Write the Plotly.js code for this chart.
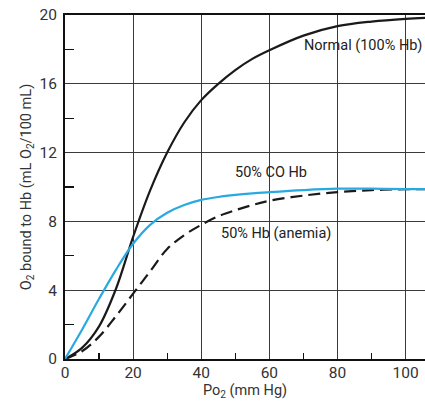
<!DOCTYPE html>
<html>
<head>
<meta charset="utf-8">
<script src="https://cdn.plot.ly/plotly-3.0.1.min.js"></script>
<style>html,body{margin:0;padding:0;background:#fff;}#chart{width:425px;height:405px;}</style>
</head>
<body>
<div id="chart"></div>
<script>
// Po2 values (mm Hg)
const po2 = [0, 5, 10, 15, 20, 25, 30, 35, 40, 45, 50, 55, 60, 70, 80, 90, 100, 106];
// O2 bound to Hb (mL O2 / 100 mL)
const normal = [0, 0.65, 1.9, 4.1, 7.1, 9.8, 12.0, 13.75, 15.05, 16.0, 16.8, 17.45, 17.95, 18.8, 19.35, 19.62, 19.78, 19.84];
const coHb = [0, 1.7, 3.5, 5.2, 6.7, 7.8, 8.5, 8.95, 9.25, 9.42, 9.54, 9.63, 9.7, 9.82, 9.9, 9.9, 9.88, 9.88];
const anemia = [0, 0.45, 1.3, 2.5, 3.8, 5.1, 6.4, 7.2, 7.8, 8.3, 8.65, 8.95, 9.2, 9.5, 9.7, 9.82, 9.87, 9.88];

const seriesNames = ['Normal (100% Hb)', '50% CO Hb', '50% Hb (anemia)'];
// label anchor: [Po2, O2 content, anchor side]
const labelPos = [[105.5, 18.2, 'right'], [49.3, 10.84, 'left'], [45.1, 7.31, 'left']];

const xTickVals = [0, 20, 40, 60, 80, 100];
const yTickVals = [0, 4, 8, 12, 16, 20];

const FONT = 'Roboto, "Noto Sans", sans-serif';
const FS = 14.5;

const traces = [
  {x: po2, y: normal, mode: 'lines', name: seriesNames[0],
   line: {color: '#1a1a1a', width: 2.2, shape: 'spline', smoothing: 1}},
  {x: po2, y: anemia, mode: 'lines', name: seriesNames[2],
   line: {color: '#1a1a1a', width: 2.2, dash: '12px,6px', shape: 'spline', smoothing: 1}},
  {x: po2, y: coHb, mode: 'lines', name: seriesNames[1],
   line: {color: '#29a9e1', width: 2.2, shape: 'spline', smoothing: 1}}
];

const layout = {
  width: 425, height: 405,
  margin: {l: 65, r: 0, t: 15, b: 46},
  showlegend: false,
  paper_bgcolor: '#fff', plot_bgcolor: '#fff',
  font: {family: FONT, size: FS, color: '#333'},
  xaxis: {
    range: [0, 105.7], tickvals: xTickVals, ticktext: xTickVals.map(String),
    showgrid: true, gridcolor: '#3a3a3a', gridwidth: 1,
    zeroline: false, showline: true, linecolor: '#111', linewidth: 2, mirror: true,
    ticks: '', ticklabelstandoff: -2,
    minor: {tick0: 10, dtick: 20, ticks: 'inside', ticklen: 6, tickcolor: '#111', tickwidth: 1.3, showgrid: false},
    title: {text: 'Po<sub>2</sub> (mm Hg)', standoff: 4, font: {family: FONT, size: FS, color: '#333'}},
    tickfont: {family: FONT, size: FS + 1, color: '#333'}
  },
  yaxis: {
    range: [0, 20], tickvals: yTickVals, ticktext: yTickVals.map(String),
    showgrid: true, gridcolor: '#3a3a3a', gridwidth: 1,
    zeroline: false, showline: true, linecolor: '#111', linewidth: 2,
    ticks: '', ticklabelstandoff: 3,
    minor: {tick0: 2, dtick: 4, ticks: 'inside', ticklen: 9, tickcolor: '#111', tickwidth: 1.3, showgrid: false},
    title: {text: 'O<sub>2</sub> bound to Hb (mL O<sub>2</sub>/100 mL)', standoff: 4, font: {family: FONT, size: FS, color: '#333'}},
    tickfont: {family: FONT, size: FS + 1, color: '#333'}
  },
  annotations: seriesNames.map((t, i) => ({
    x: labelPos[i][0], y: labelPos[i][1], xref: 'x', yref: 'y', text: t, showarrow: false,
    xanchor: labelPos[i][2], yanchor: 'middle', font: {family: FONT, size: FS, color: '#222'}
  }))
};

Plotly.newPlot('chart', traces, layout, {displayModeBar: false, staticPlot: true});
</script>
</body>
</html>
